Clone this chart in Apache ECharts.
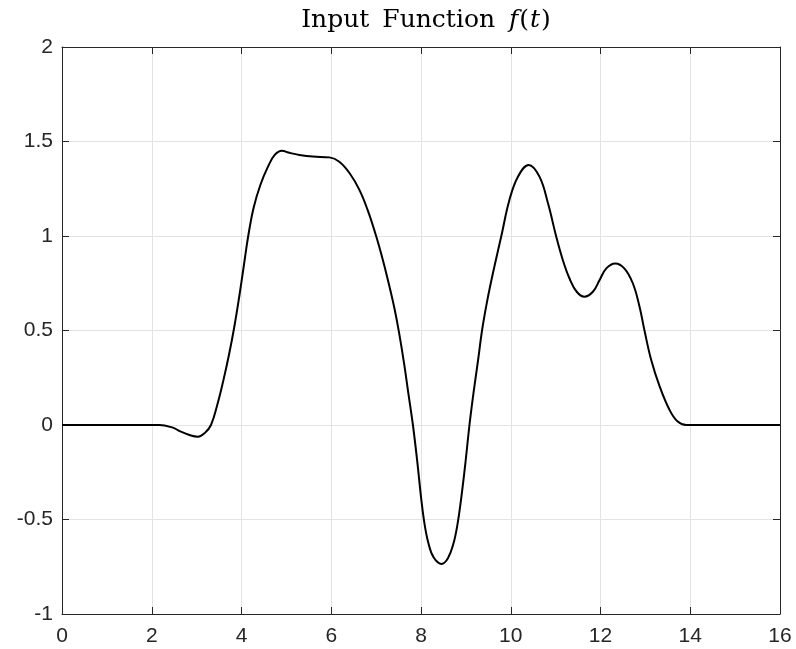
<!DOCTYPE html>
<html>
<head>
<meta charset="utf-8">
<script src="https://cdn.jsdelivr.net/npm/echarts@6/dist/echarts.min.js"></script>
<style>html,body{margin:0;padding:0;background:#fff;}#c{width:796px;height:649px;}</style>
</head>
<body>
<div id="c"></div>
<script>
var tValues = [0, 1.0, 2.0, 2.17, 2.47, 2.62, 2.84, 3.03, 3.18, 3.32, 3.47, 3.60, 3.72, 3.84, 3.95, 4.05, 4.15, 4.27, 4.42, 4.59, 4.74, 4.90, 5.07, 5.29, 5.59, 5.96, 6.18, 6.41, 6.63, 6.81, 7.00, 7.15, 7.30, 7.41, 7.51, 7.62, 7.72, 7.82, 7.92, 8.00, 8.07, 8.16, 8.28, 8.46, 8.60, 8.72, 8.81, 8.90, 8.99, 9.08, 9.17, 9.27, 9.36, 9.47, 9.60, 9.79, 9.97, 10.16, 10.40, 10.64, 10.83, 11.01, 11.16, 11.31, 11.47, 11.64, 11.83, 11.98, 12.13, 12.33, 12.53, 12.72, 12.87, 12.98, 13.13, 13.32, 13.54, 13.72, 13.91, 15, 16];
var fValues = [0, 0, 0, 0, -0.014, -0.032, -0.053, -0.062, -0.043, 0, 0.115, 0.24, 0.37, 0.52, 0.68, 0.84, 1.0, 1.15, 1.27, 1.367, 1.429, 1.451, 1.44, 1.429, 1.42, 1.416, 1.393, 1.332, 1.243, 1.138, 1.0, 0.873, 0.73, 0.615, 0.49, 0.33, 0.165, 0, -0.20, -0.38, -0.51, -0.62, -0.70, -0.735, -0.705, -0.63, -0.53, -0.38, -0.2, 0, 0.17, 0.34, 0.50, 0.65, 0.80, 1.0, 1.19, 1.314, 1.376, 1.314, 1.173, 1.0, 0.873, 0.775, 0.705, 0.679, 0.705, 0.767, 0.829, 0.855, 0.829, 0.75, 0.626, 0.50, 0.344, 0.203, 0.079, 0.018, 0, 0, 0];
var xTicks = [0, 2, 4, 6, 8, 10, 12, 14, 16];
var yTicks = [-1, -0.5, 0, 0.5, 1, 1.5, 2];

var data = tValues.map(function (t, i) { return [t, fValues[i]]; });
var axisCol = '#262626';
var gridCol = '#e3e3e3';
var lab = { color: axisCol, fontSize: 21, fontFamily: 'Liberation Sans, Arial, sans-serif' };

var chart = echarts.init(document.getElementById('c'));
chart.setOption({
  animation: false,
  backgroundColor: '#fff',
  title: {
    text: '{a|Input}{s| }{a|Function}{s| }{b|f}{a|(}{b|t}{a|)}',
    left: 421, textAlign: 'center', top: 3,
    textStyle: {
      rich: {
        a: { fontFamily: 'DejaVu Serif, serif', fontWeight: 'normal', fontSize: 25, color: '#000' },
        s: { fontFamily: 'DejaVu Serif, serif', fontWeight: 'normal', fontSize: 25, color: '#000', width: 13 },
        b: { fontFamily: 'DejaVu Serif, serif', fontWeight: 'normal', fontStyle: 'italic', fontSize: 25, color: '#000', padding: [0, 1, 0, 1] }
      }
    }
  },
  grid: { left: 62, right: 16, top: 47, bottom: 35, containLabel: false },
  xAxis: [{
    type: 'value', min: xTicks[0], max: xTicks[xTicks.length - 1], interval: 2,
    axisLine: { onZero: false, lineStyle: { color: axisCol, width: 1 } },
    axisTick: { inside: true, length: 7, lineStyle: { color: axisCol } },
    axisLabel: Object.assign({ margin: 12 }, lab),
    splitLine: { show: true, lineStyle: { color: gridCol, width: 1 } }
  }, {
    type: 'value', position: 'top', min: xTicks[0], max: xTicks[xTicks.length - 1], interval: 2,
    axisLine: { show: true, onZero: false, lineStyle: { color: axisCol, width: 1 } },
    axisTick: { show: true, inside: true, length: 7, lineStyle: { color: axisCol } },
    axisLabel: { show: false }, splitLine: { show: false }
  }],
  yAxis: [{
    type: 'value', min: yTicks[0], max: yTicks[yTicks.length - 1], interval: 0.5,
    axisLine: { show: true, onZero: false, lineStyle: { color: axisCol, width: 1 } },
    axisTick: { show: true, inside: true, length: 7, lineStyle: { color: axisCol } },
    axisLabel: Object.assign({ margin: 9 }, lab),
    splitLine: { show: true, lineStyle: { color: gridCol, width: 1 } }
  }, {
    type: 'value', position: 'right', min: yTicks[0], max: yTicks[yTicks.length - 1], interval: 0.5,
    axisLine: { show: true, onZero: false, lineStyle: { color: axisCol, width: 1 } },
    axisTick: { show: true, inside: true, length: 7, lineStyle: { color: axisCol } },
    axisLabel: { show: false }, splitLine: { show: false }
  }],
  series: [{
    type: 'line', data: data, xAxisIndex: 0, yAxisIndex: 0,
    showSymbol: false, smooth: 0.4,
    lineStyle: { color: '#000', width: 2 }
  }]
});
</script>
</body>
</html>
